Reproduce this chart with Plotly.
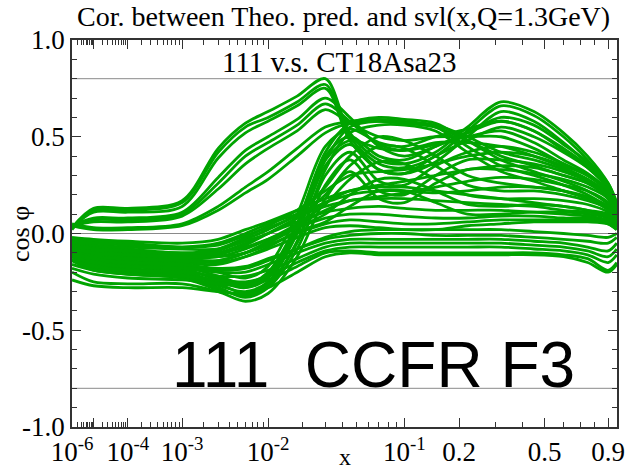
import numpy as np
import plotly.graph_objects as go

# ---------------- data ----------------
X_POINTS = [1e-6, 1e-5, 1e-4, 1e-3, 3e-3, 6e-3, 0.01, 0.018, 0.03, 0.045,
            0.07, 0.1, 0.15, 0.22, 0.32, 0.45, 0.6, 0.75, 0.9, 0.97]

# early-rising curves peaking near x~0.03
A1 = [0.03, 0.13, 0.13, 0.17, 0.44, 0.57, 0.63, 0.71, 0.80, 0.52, 0.38, 0.36, 0.42, 0.55, 0.68, 0.63, 0.52, 0.40, 0.26, 0.15]
A2 = [0.02, 0.12, 0.12, 0.16, 0.42, 0.55, 0.60, 0.68, 0.77, 0.50, 0.36, 0.34, 0.40, 0.53, 0.66, 0.61, 0.50, 0.38, 0.25, 0.14]
A3 = [0.03, 0.11, 0.11, 0.14, 0.39, 0.52, 0.58, 0.66, 0.75, 0.48, 0.33, 0.31, 0.37, 0.50, 0.63, 0.58, 0.47, 0.36, 0.24, 0.14]
B1 = [0.04, 0.08, 0.08, 0.11, 0.29, 0.43, 0.50, 0.59, 0.70, 0.60, 0.45, 0.40, 0.45, 0.52, 0.58, 0.53, 0.43, 0.34, 0.23, 0.13]
B2 = [0.03, 0.07, 0.07, 0.10, 0.26, 0.40, 0.47, 0.56, 0.67, 0.58, 0.46, 0.43, 0.46, 0.50, 0.53, 0.47, 0.38, 0.31, 0.22, 0.12]
B3 = [0.04, 0.06, 0.06, 0.09, 0.23, 0.36, 0.44, 0.53, 0.64, 0.57, 0.50, 0.48, 0.50, 0.50, 0.50, 0.44, 0.36, 0.30, 0.21, 0.11]
C1 = [0.05, 0.03, 0.03, 0.05, 0.14, 0.24, 0.32, 0.44, 0.55, 0.58, 0.59, 0.58, 0.56, 0.50, 0.42, 0.38, 0.33, 0.28, 0.20, 0.10]
C2 = [0.04, 0.02, 0.02, 0.04, 0.12, 0.21, 0.28, 0.40, 0.52, 0.57, 0.58, 0.57, 0.55, 0.48, 0.40, 0.35, 0.30, 0.26, 0.18, 0.08]
# flat-hump curves
F1 = [-0.10, -0.15, -0.18, -0.20, -0.25, -0.28, -0.22, 0.05, 0.42, 0.57, 0.60, 0.59, 0.57, 0.48, 0.38, 0.32, 0.27, 0.22, 0.15, 0.06]
F2 = [-0.12, -0.17, -0.20, -0.22, -0.27, -0.30, -0.25, 0.00, 0.38, 0.55, 0.58, 0.57, 0.55, 0.45, 0.35, 0.30, 0.25, 0.20, 0.13, 0.05]
F3 = [-0.14, -0.19, -0.21, -0.23, -0.29, -0.32, -0.27, -0.04, 0.33, 0.52, 0.56, 0.56, 0.53, 0.42, 0.32, 0.27, 0.22, 0.18, 0.12, 0.04]
# U-shaped curves
U0 = [-0.07, -0.11, -0.14, -0.16, -0.20, -0.23, -0.17, 0.10, 0.45, 0.54, 0.47, 0.45, 0.50, 0.54, 0.58, 0.53, 0.44, 0.35, 0.25, 0.15]
U1 = [-0.08, -0.12, -0.15, -0.17, -0.22, -0.26, -0.20, 0.05, 0.40, 0.50, 0.40, 0.38, 0.45, 0.52, 0.60, 0.56, 0.46, 0.37, 0.26, 0.16]
U2 = [-0.09, -0.13, -0.16, -0.18, -0.24, -0.28, -0.23, 0.00, 0.35, 0.46, 0.33, 0.31, 0.40, 0.48, 0.55, 0.50, 0.42, 0.34, 0.24, 0.15]
U3 = [-0.11, -0.16, -0.19, -0.21, -0.26, -0.31, -0.26, -0.05, 0.30, 0.42, 0.27, 0.25, 0.35, 0.42, 0.45, 0.42, 0.36, 0.30, 0.22, 0.12]
U4 = [-0.13, -0.18, -0.21, -0.23, -0.28, -0.33, -0.28, -0.08, 0.25, 0.38, 0.22, 0.20, 0.30, 0.38, 0.38, 0.36, 0.32, 0.27, 0.20, 0.10]
U5 = [-0.20, -0.25, -0.26, -0.26, -0.30, -0.35, -0.31, -0.12, 0.18, 0.32, 0.18, 0.16, 0.26, 0.33, 0.33, 0.31, 0.28, 0.24, 0.18, 0.08]
U6 = [-0.10, -0.14, -0.17, -0.19, -0.23, -0.27, -0.21, 0.02, 0.38, 0.48, 0.44, 0.43, 0.47, 0.47, 0.45, 0.40, 0.34, 0.28, 0.20, 0.10]
# arch curves
R1 = [-0.05, -0.08, -0.10, -0.12, -0.10, -0.05, 0.00, 0.08, 0.20, 0.35, 0.45, 0.44, 0.35, 0.25, 0.22, 0.22, 0.20, 0.17, 0.13, 0.08]
R2 = [-0.06, -0.09, -0.11, -0.13, -0.12, -0.08, -0.03, 0.05, 0.15, 0.28, 0.37, 0.36, 0.28, 0.20, 0.18, 0.18, 0.17, 0.15, 0.11, 0.06]
R3 = [-0.07, -0.10, -0.12, -0.14, -0.14, -0.10, -0.05, 0.03, 0.10, 0.20, 0.28, 0.28, 0.22, 0.15, 0.14, 0.15, 0.14, 0.12, 0.09, 0.05]
R4 = [-0.04, -0.07, -0.09, -0.11, -0.09, -0.03, 0.02, 0.10, 0.24, 0.40, 0.50, 0.48, 0.40, 0.30, 0.26, 0.24, 0.22, 0.18, 0.14, 0.08]
R5 = [-0.08, -0.11, -0.13, -0.15, -0.16, -0.12, -0.07, 0.01, 0.06, 0.14, 0.22, 0.22, 0.16, 0.10, 0.10, 0.11, 0.11, 0.10, 0.08, 0.04]
# mid-level curves
D1 = [-0.04, -0.06, -0.08, -0.10, -0.08, -0.02, 0.04, 0.12, 0.22, 0.30, 0.32, 0.33, 0.36, 0.40, 0.42, 0.40, 0.35, 0.30, 0.22, 0.12]
D2 = [-0.05, -0.07, -0.09, -0.11, -0.11, -0.06, 0.00, 0.08, 0.16, 0.22, 0.25, 0.27, 0.30, 0.33, 0.35, 0.34, 0.30, 0.26, 0.19, 0.10]
D3 = [-0.07, -0.09, -0.11, -0.13, -0.14, -0.10, -0.04, 0.04, 0.12, 0.17, 0.19, 0.21, 0.24, 0.27, 0.29, 0.28, 0.25, 0.22, 0.16, 0.08]
M1 = [-0.02, -0.03, -0.04, -0.05, -0.03, 0.02, 0.06, 0.12, 0.18, 0.22, 0.24, 0.24, 0.22, 0.20, 0.18, 0.16, 0.14, 0.12, 0.10, 0.06]
M2 = [-0.03, -0.04, -0.05, -0.07, -0.06, -0.01, 0.03, 0.09, 0.14, 0.17, 0.18, 0.18, 0.17, 0.16, 0.15, 0.14, 0.12, 0.11, 0.09, 0.05]
M3 = [-0.05, -0.06, -0.07, -0.08, -0.08, -0.04, 0.00, 0.06, 0.11, 0.13, 0.14, 0.13, 0.12, 0.12, 0.12, 0.11, 0.10, 0.09, 0.07, 0.04]
M4 = [-0.06, -0.08, -0.09, -0.10, -0.10, -0.07, -0.03, 0.03, 0.08, 0.10, 0.10, 0.09, 0.08, 0.08, 0.09, 0.09, 0.08, 0.08, 0.06, 0.03]
M5 = [-0.08, -0.10, -0.11, -0.12, -0.12, -0.10, -0.06, 0.00, 0.05, 0.07, 0.06, 0.05, 0.05, 0.06, 0.07, 0.07, 0.07, 0.07, 0.05, 0.02]
M6 = [-0.09, -0.12, -0.13, -0.14, -0.15, -0.12, -0.08, -0.02, 0.03, 0.04, 0.03, 0.02, 0.02, 0.04, 0.05, 0.06, 0.06, 0.06, 0.05, 0.02]
M7 = [-0.04, -0.05, -0.06, -0.07, -0.05, 0.00, 0.05, 0.10, 0.16, 0.20, 0.22, 0.22, 0.21, 0.22, 0.24, 0.24, 0.22, 0.19, 0.14, 0.08]
# curves staying below zero at large x
L0 = [-0.11, -0.14, -0.16, -0.17, -0.19, -0.18, -0.14, -0.08, -0.02, 0.01, 0.02, 0.02, 0.02, 0.02, 0.02, 0.01, 0.00, -0.01, -0.02, 0.00]
L1 = [-0.10, -0.13, -0.15, -0.16, -0.18, -0.17, -0.13, -0.08, -0.03, -0.01, 0.00, 0.00, -0.01, -0.01, -0.01, -0.02, -0.03, -0.04, -0.05, -0.02]
L2 = [-0.12, -0.15, -0.17, -0.18, -0.20, -0.20, -0.16, -0.10, -0.05, -0.03, -0.03, -0.03, -0.03, -0.03, -0.03, -0.04, -0.05, -0.07, -0.09, -0.05]
L3 = [-0.14, -0.17, -0.19, -0.20, -0.22, -0.22, -0.19, -0.13, -0.07, -0.05, -0.05, -0.05, -0.05, -0.05, -0.05, -0.06, -0.07, -0.09, -0.12, -0.08]
L4 = [-0.16, -0.19, -0.21, -0.22, -0.24, -0.25, -0.22, -0.15, -0.09, -0.07, -0.07, -0.07, -0.07, -0.07, -0.07, -0.08, -0.09, -0.11, -0.15, -0.11]
L5 = [-0.18, -0.21, -0.23, -0.24, -0.26, -0.27, -0.24, -0.17, -0.10, -0.09, -0.10, -0.10, -0.10, -0.10, -0.10, -0.10, -0.11, -0.13, -0.19, -0.15]
L6 = [-0.24, -0.27, -0.28, -0.28, -0.30, -0.31, -0.28, -0.20, -0.12, -0.10, -0.11, -0.11, -0.11, -0.11, -0.11, -0.11, -0.12, -0.15, -0.20, -0.16]

CURVES = [A1, A2, A3, B1, B2, B3, C1, C2, F1, F2, F3, U0, U1, U2, U3, U4, U5, U6,
          R1, R2, R3, R4, R5, D1, D2, D3, M1, M2, M3, M4, M5, M6, M7,
          L0, L1, L2, L3, L4, L5, L6]

X_MAJOR = [1e-6, 1e-5, 1e-4, 1e-3, 1e-2, 0.1, 0.2, 0.5, 0.9]
X_MAJOR_TEXT = ["10<sup>-6</sup>", "", "10<sup>-4</sup>", "10<sup>-3</sup>",
                "10<sup>-2</sup>", "10<sup>-1</sup>", "0.2", "0.5", "0.9"]
X_MINOR = [k * 10.0 ** d for d in range(-6, -1) for k in range(2, 10)] + [0.3, 0.4, 0.6, 0.7, 0.8]
X_RANGE = [1e-6, 0.972]
Y_MAJOR = [-1.0, -0.5, 0.0, 0.5, 1.0]
Y_MAJOR_TEXT = ["-1.0", "-0.5", "0.0", "0.5", "1.0"]
Y_MINOR = [-0.9, -0.8, -0.7, -0.6, -0.4, -0.3, -0.2, -0.1, 0.1, 0.2, 0.3, 0.4, 0.6, 0.7, 0.8, 0.9]
REF_LINES = [0.8, 0.0, -0.8]

POWER = 0.2


def xs(v):
    return (np.asarray(v, dtype=float)) ** POWER


SERIF = "Liberation Serif"
GREEN = "#00a400"
AX = "#333333"

fig = go.Figure()
for c in CURVES:
    fig.add_trace(go.Scatter(x=xs(X_POINTS), y=c, mode="lines",
                             line=dict(color=GREEN, width=2.8, shape="spline", smoothing=0.9),
                             hoverinfo="skip", showlegend=False))

for yv in REF_LINES:
    fig.add_shape(type="line", xref="paper", x0=0, x1=1, yref="y", y0=yv, y1=yv,
                  line=dict(color="#8a8a8a", width=1), layer="below")

fig.update_layout(
    width=628, height=471,
    margin=dict(l=72, r=11, t=40, b=44),
    paper_bgcolor="white", plot_bgcolor="white",
    showlegend=False,
)
fig.update_xaxes(
    automargin=False,
    range=list(xs(X_RANGE)), tickmode="array", tickvals=list(xs(X_MAJOR)), ticktext=X_MAJOR_TEXT,
    ticks="inside", ticklen=9, tickwidth=1.2, tickcolor=AX,
    showline=True, linecolor=AX, linewidth=1.5, mirror="allticks",
    showgrid=False, zeroline=False,
    tickfont=dict(family=SERIF, size=27, color="black"),
    minor=dict(tickmode="array", tickvals=list(xs(X_MINOR)), ticks="inside", ticklen=5,
               tickwidth=1, tickcolor=AX, showgrid=False),
)
fig.update_yaxes(
    automargin=False,
    range=[-1, 1], tickmode="array", tickvals=Y_MAJOR, ticktext=Y_MAJOR_TEXT,
    ticks="inside", ticklen=9, tickwidth=1.2, tickcolor=AX,
    showline=True, linecolor=AX, linewidth=1.5, mirror="allticks",
    showgrid=False, zeroline=False,
    tickfont=dict(family=SERIF, size=27, color="black"),
    minor=dict(tickmode="array", tickvals=Y_MINOR, ticks="inside", ticklen=5,
               tickwidth=1, tickcolor=AX, showgrid=False),
)

PH = 471 - 40 - 44
PW = 628 - 72 - 11


def px(xp):
    return (xp - 72) / PW


def py(yp):
    return (471 - 44 - yp) / PH


annots = [
    dict(text="Cor. between Theo. pred. and svl(x,Q=1.3GeV)", x=px(343), y=py(17),
         font=dict(family=SERIF, size=28, color="black")),
    dict(text="111 v.s. CT18Asa23", x=px(339), y=py(62),
         font=dict(family=SERIF, size=29, color="black")),
    dict(text="cos \u03c6", x=px(21), y=py(234), textangle=-90,
         font=dict(family=SERIF, size=26, color="black")),
    dict(text="x", x=px(345), y=py(457),
         font=dict(family=SERIF, size=24, color="black")),
    dict(text="111\u00a0\u00a0CCFR F3", x=px(373), y=py(365),
         font=dict(family="Liberation Sans", size=64, color="black")),
]
for a in annots:
    fig.add_annotation(xref="paper", yref="paper", showarrow=False,
                       xanchor="center", yanchor="middle", **a)

fig.write_html("out.html")
